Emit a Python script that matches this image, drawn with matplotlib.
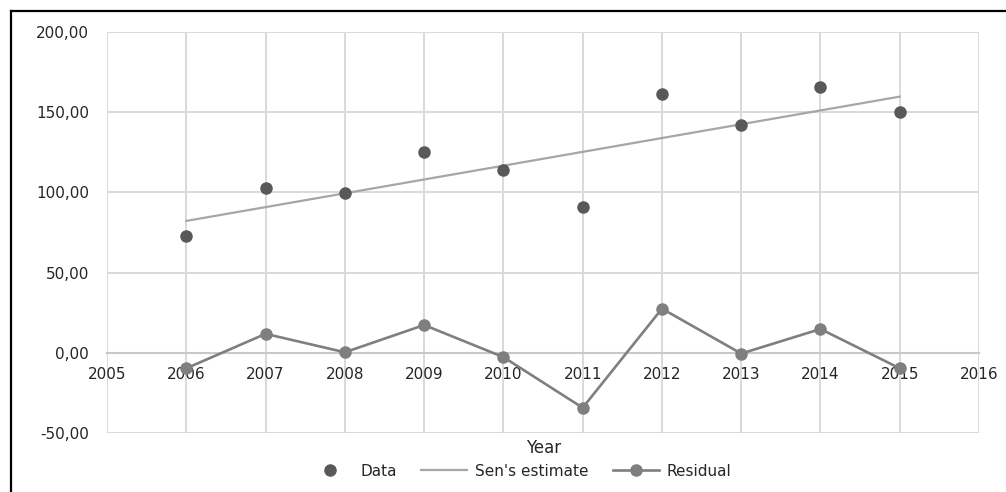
import numpy as np
import matplotlib
matplotlib.use("Agg")
import matplotlib.pyplot as plt
from matplotlib.lines import Line2D

## data
years = [2006, 2007, 2008, 2009, 2010, 2011, 2012, 2013, 2014, 2015]
data = [72.5, 102.5, 99.6, 125.0, 113.8, 91.0, 161.3, 141.7, 165.6, 150.0]
sen_start, sen_end = 82.2, 159.7
residual = [-9.7, 11.8, 0.3, 17.3, -2.7, -34.3, 27.5, -0.5, 14.8, -9.7]

x_ticks = list(range(2005, 2017))
y_ticks = [-50, 0, 50, 100, 150, 200]
y_labels = ["-50,00", "0,00", "50,00", "100,00", "150,00", "200,00"]

## style
plt.rcParams['font.family'] = ['DejaVu Sans']
txt = '#262626'
grid_c = '#d9d9d9'

fig = plt.figure(figsize=(10.06, 4.92), dpi=100)
ax = fig.add_axes([0.1064, 0.12, 0.8668, 0.815])

ax.set_xlim(2005, 2016)
ax.set_ylim(-50, 200)
ax.set_xticks(x_ticks)
ax.set_yticks(y_ticks)
ax.set_yticklabels(y_labels)
ax.grid(True, color=grid_c, linewidth=1.4)
ax.set_axisbelow(True)

for side in ['top', 'right', 'left']:
    ax.spines[side].set_visible(False)
# x axis crosses at zero, labels hang just below it
ax.spines['bottom'].set_position(('data', 0))
ax.spines['bottom'].set_color('#c8c8c8')
ax.spines['bottom'].set_linewidth(1.5)
ax.tick_params(axis='both', length=0, labelsize=11, colors=txt)
ax.tick_params(axis='x', pad=10)
ax.tick_params(axis='y', pad=13)

# Sen's slope line
ax.plot([years[0], years[-1]], [sen_start, sen_end], color='#a6a6a6',
        linewidth=1.6, label="Sen's estimate", zorder=3)
# observations
ax.plot(years, data, linestyle='none', marker='o', markersize=8,
        color='#595959', label='Data', zorder=4)
# residuals
ax.plot(years, residual, color='#7f7f7f', linewidth=1.9, marker='o',
        markersize=8, label='Residual', zorder=4)

fig.text(0.540, 1 - 448 / 492, 'Year', ha='center', va='center',
         fontsize=12, color=txt)

handles = [
    Line2D([], [], linestyle='none', marker='o', markersize=8, color='#595959'),
    Line2D([], [], color='#a6a6a6', linewidth=1.6),
    Line2D([], [], color='#7f7f7f', linewidth=1.9, marker='o', markersize=8),
]
fig.legend(handles, ['Data', "Sen's estimate", 'Residual'], ncol=3,
           loc='center', bbox_to_anchor=(0.516, 1 - 471 / 492), frameon=False,
           fontsize=11, labelcolor=txt, handlelength=3.0, columnspacing=1.6,
           handletextpad=0.5)

# outer frame lines along the top and left edges
fig.add_artist(Line2D([11 / 1006, 1], [1 - 11 / 492, 1 - 11 / 492],
                      transform=fig.transFigure, color='black', linewidth=1.6))
fig.add_artist(Line2D([11 / 1006, 11 / 1006], [0, 1 - 11 / 492],
                      transform=fig.transFigure, color='black', linewidth=1.6))

fig.savefig('out.png', dpi=100)
